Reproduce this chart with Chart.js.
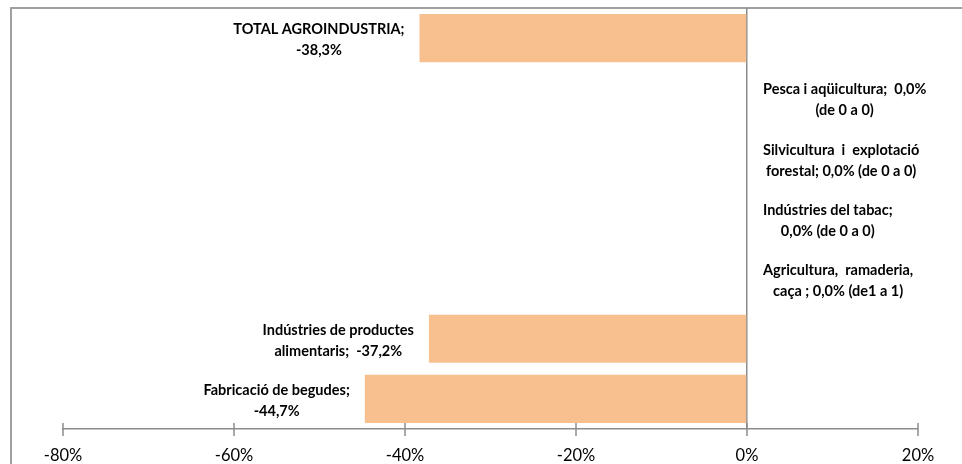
<!DOCTYPE html>
<html lang="ca">
<head>
  <meta charset="UTF-8">
  <title>Variació agroindústria</title>
  <script src="https://cdn.jsdelivr.net/npm/chart.js"></script>
  <style>
    body { margin: 0; background: #fff; overflow: hidden; }
    #frame { position: absolute; left: 10px; top: 7px; width: 1000px; height: 500px;
             border-left: 2px solid #a0a0a0; border-top: 2px solid #a0a0a0; }
    #chart { position: absolute; left: 0; top: 0; }
  </style>
</head>
<body>
  <div id="frame"></div>
  <canvas id="chart" width="962" height="464"></canvas>

  <script>
    const categories = ['TOTAL AGROINDUSTRIA', 'Pesca i aqüicultura', 'Silvicultura i explotació forestal',
      'Indústries del tabac', 'Agricultura, ramaderia, caça', 'Indústries de productes alimentaris',
      'Fabricació de begudes'];
    const values = [-38.3, 0, 0, 0, 0, -37.2, -44.7];
    const labelLines = [
      ['TOTAL AGROINDUSTRIA;', '-38,3%'],
      ['Pesca i aqüicultura;  0,0%', '(de 0 a 0)'],
      ['Silvicultura  i  explotació', 'forestal; 0,0% (de 0 a 0)'],
      ['Indústries del tabac;', '0,0% (de 0 a 0)'],
      ['Agricultura,  ramaderia,', 'caça ; 0,0% (de1 a 1)'],
      ['Indústries de productes', 'alimentaris;  -37,2%'],
      ['Fabricació de begudes;', '-44,7%']
    ];
    const tickValues = [-80, -60, -40, -20, 0, 20];

    const gray = '#8c8c8c';

    // data labels next to the bar end, like excel "outside end"
    const barLabels = {
      id: 'barLabels',
      afterDatasetsDraw(chart) {
        const ctx = chart.ctx;
        const meta = chart.getDatasetMeta(0);
        ctx.save();
        ctx.font = 'bold 14.5px Lato';
        ctx.fillStyle = '#000';
        ctx.textAlign = 'center';
        ctx.textBaseline = 'middle';
        meta.data.forEach((bar, i) => {
          const lines = labelLines[i];
          const w = Math.max(...lines.map(l => ctx.measureText(l).width));
          const cx = values[i] < 0 ? bar.x - 15 - w / 2 : bar.x + 16 + w / 2;
          const lh = 21;
          const y0 = bar.y + 2 - (lines.length - 1) * lh / 2;
          lines.forEach((l, j) => ctx.fillText(l, cx, y0 + j * lh));
        });
        ctx.restore();
      }
    };

    // tick marks crossing the axis line
    const crossTicks = {
      id: 'crossTicks',
      afterDraw(chart) {
        const ctx = chart.ctx;
        const x = chart.scales.x;
        const y = chart.chartArea.bottom;
        ctx.save();
        ctx.strokeStyle = gray;
        ctx.lineWidth = 1.5;
        x.ticks.forEach(t => {
          const px = x.getPixelForValue(t.value);
          ctx.beginPath();
          ctx.moveTo(px, y - 6);
          ctx.lineTo(px, y + 7);
          ctx.stroke();
        });
        ctx.restore();
      }
    };

    new Chart(document.getElementById('chart'), {
      type: 'bar',
      data: {
        labels: categories,
        datasets: [{
          data: values,
          backgroundColor: '#f9c08f',
          categoryPercentage: 1,
          barPercentage: 0.8
        }]
      },
      options: {
        indexAxis: 'y',
        responsive: false,
        animation: false,
        layout: { padding: { left: 63, right: 44, top: 8, bottom: 0 } },
        plugins: { legend: { display: false }, tooltip: { enabled: false } },
        scales: {
          x: {
            min: -80,
            max: 20,
            afterBuildTicks(scale) {
              scale.ticks = tickValues.map(v => ({ value: v }));
            },
            afterFit(scale) {
              scale.height = 35;
            },
            grid: {
              drawTicks: false,
              color: c => (c.tick && c.tick.value === 0 ? gray : 'transparent'),
              lineWidth: 1.5
            },
            border: { display: true, color: gray, width: 1.5 },
            ticks: {
              padding: 17,
              color: '#000',
              font: { family: 'Lato', size: 16.5 },
              callback: v => v + '%'
            }
          },
          y: { display: false }
        }
      },
      plugins: [barLabels, crossTicks]
    });
  </script>
</body>
</html>
